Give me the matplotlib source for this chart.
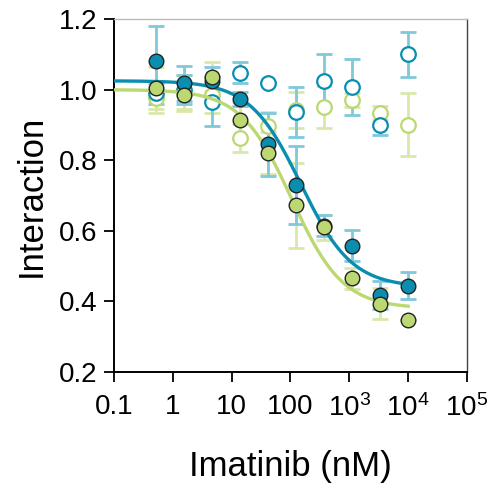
import numpy as np
import matplotlib
matplotlib.use("Agg")
import matplotlib.pyplot as plt

plt.rcParams['font.family'] = ['Liberation Sans', 'DejaVu Sans']
plt.rcParams['mathtext.fontset'] = 'custom'
plt.rcParams['mathtext.rm'] = 'Liberation Sans'

# imatinib concentrations (nM), 3-fold dilution
conc = [0.508, 1.52, 4.57, 13.7, 41.2, 123, 370, 1111, 3333, 10000]

# filled teal
teal_fill = [1.08, 1.018, 1.025, 0.973, 0.845, 0.729, 0.615, 0.558, 0.419, 0.445]
teal_fill_err = [0.10, 0.05, 0.04, 0.02, 0.09, 0.11, 0.03, 0.043, 0.04, 0.037]
# filled green
green_fill = [1.005, 0.985, 1.037, 0.914, 0.821, 0.672, 0.610, 0.466, 0.394, 0.347]
green_fill_err = [0.06, 0.04, 0.04, 0.05, 0.06, 0.12, 0.035, 0.03, 0.045, 0.0]
# open teal
teal_open = [0.99, 1.0, 0.966, 1.048, 1.018, 0.937, 1.025, 1.008, 0.901, 1.10]
teal_open_err = [0.03, 0.04, 0.07, 0.03, 0.0, 0.07, 0.075, 0.08, 0.03, 0.063]
# open green
green_open = [0.975, 0.99, 0.985, 0.862, 0.897, 0.942, 0.95, 0.971, 0.933, 0.901]
green_open_err = [0.04, 0.05, 0.05, 0.04, 0.04, 0.05, 0.06, 0.02, 0.02, 0.088]

# fitted curve parameters (top, bottom, IC50 nM, hill)
teal_fit = (1.025, 0.44, 150, 1.0)
green_fit = (1.0, 0.38, 105, 1.0)

xticks = [0.1, 1, 10, 100, 1e3, 1e4, 1e5]
xticklabels = ['0.1', '1', '10', '100', r'$\mathregular{10^3}$',
               r'$\mathregular{10^4}$', r'$\mathregular{10^5}$']
yticks = [0.2, 0.4, 0.6, 0.8, 1.0, 1.2]

TEAL = '#0a8eb0'
GREEN = '#bcd872'
TEAL_ERR = '#7fc9da'
GREEN_ERR = '#d8e8aa'


def logistic(x, top, bottom, ic50, hill):
    return bottom + (top - bottom) / (1 + (x / ic50) ** hill)


fig = plt.figure(figsize=(4.95, 4.95), dpi=100)
ax = fig.add_axes([0.2303, 0.2485, 0.7131, 0.7131])

eb = dict(fmt='none', elinewidth=2.0, capsize=6, capthick=2.0, zorder=1)
ax.errorbar(conc, green_open, yerr=green_open_err, ecolor=GREEN_ERR, **eb)
ax.errorbar(conc, green_fill, yerr=green_fill_err, ecolor=GREEN_ERR, **eb)
ax.errorbar(conc, teal_open, yerr=teal_open_err, ecolor=TEAL_ERR, **eb)
ax.errorbar(conc, teal_fill, yerr=teal_fill_err, ecolor=TEAL_ERR, **eb)

ax.plot(conc, green_open, 'o', ms=10.5, mfc='white', mec=GREEN, mew=1.6, zorder=2)
ax.plot(conc, teal_open, 'o', ms=10.5, mfc='white', mec=TEAL, mew=1.6, zorder=2)

xs = np.logspace(-1, 4, 200)
ax.plot(xs, logistic(xs, *teal_fit), color=TEAL, lw=2.4, zorder=3)
ax.plot(xs, logistic(xs, *green_fit), color=GREEN, lw=2.4, zorder=3)

ax.plot(conc, teal_fill, 'o', ms=10.5, mfc=TEAL, mec='#222222', mew=1.0, zorder=4)
ax.plot(conc, green_fill, 'o', ms=10.5, mfc=GREEN, mec='#222222', mew=1.0, zorder=4)

ax.set_xscale('log')
ax.set_xlim(0.1, 1e5)
ax.set_ylim(0.2, 1.2)
ax.set_xticks(xticks)
ax.set_xticklabels(xticklabels)
ax.xaxis.set_minor_locator(matplotlib.ticker.NullLocator())
ax.set_yticks(yticks)
ax.set_yticklabels(['%.1f' % v for v in yticks])
ax.tick_params(direction='out', length=7, width=1.3, labelsize=20, pad=5)
ax.tick_params(axis='x', pad=9)

for s in ['left', 'bottom']:
    ax.spines[s].set_linewidth(1.4)
ax.spines['top'].set_color('#bbbbbb')
ax.spines['top'].set_linewidth(1.0)
ax.spines['right'].set_color('#444444')
ax.spines['right'].set_linewidth(1.0)

ax.set_xlabel('Imatinib (nM)', fontsize=25, labelpad=20)
ax.set_ylabel('Interaction', fontsize=25, labelpad=8)

fig.savefig('out.png', dpi=100)
